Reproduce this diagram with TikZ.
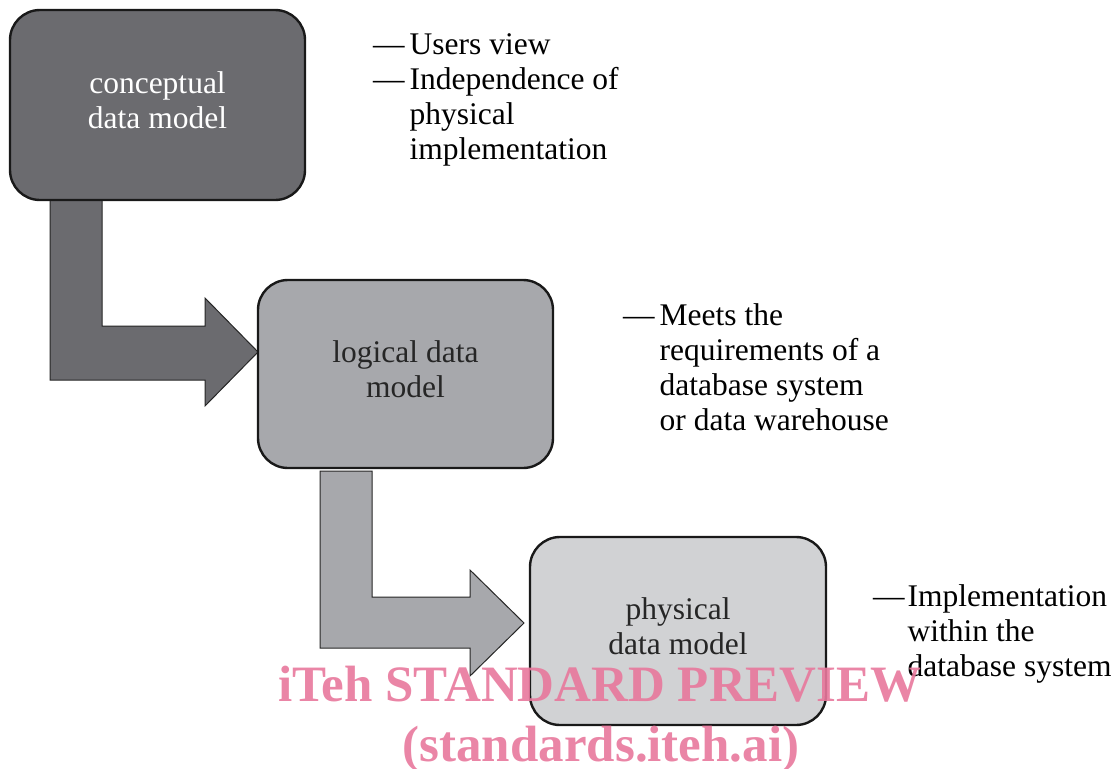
\documentclass[tikz,border=0pt]{standalone}
\usepackage{fontspec}
\setmainfont{Liberation Serif}
\definecolor{gDark}{RGB}{107,107,111}
\definecolor{gMid}{RGB}{167,168,172}
\definecolor{gLight}{RGB}{209,210,212}
\definecolor{wmark}{RGB}{232,120,156}
\tikzset{
  box/.style={draw=black!90, line width=2.4pt, rounded corners=30pt,
    minimum width=295pt, minimum height=188pt, inner sep=0pt, outer sep=0pt},
  boxlabel/.style={align=center, inner sep=0pt, font=\fontsize{31.5}{35}\selectfont},
  blockarrow/.style={draw=black!85, line width=1pt, line join=miter},
  note/.style={anchor=base west, inner sep=0pt, font=\fontsize{31.5}{35}\selectfont},
  wm/.style={anchor=base, inner sep=0pt, text=wmark, opacity=0.9,
    font=\fontsize{51}{55}\selectfont\bfseries}
}
\begin{document}
\begin{tikzpicture}[x=1pt,y=-1pt]
\useasboundingbox (0,0) rectangle (1112,769);
% block arrows
\draw[blockarrow, fill=gDark] (50,200) -- (102,200) -- (102,326) -- (205,326) -- (205,298)
  -- (258,352) -- (205,406) -- (205,380) -- (50,380) -- cycle;
\draw[blockarrow, fill=gMid] (320,471) -- (372,471) -- (372,597) -- (470,597) -- (470,570)
  -- (524,623) -- (470,676) -- (470,648) -- (320,648) -- cycle;
% boxes
\node[box, fill=gDark, minimum height=190pt] (cdm) at (157.5,105) {};
\node[box, fill=gMid] (ldm) at (405.5,374) {};
\node[box, fill=gLight, minimum width=296pt] (pdm) at (678,631) {};
\node[boxlabel, text=white] (cdmt) at ([yshift=5pt]cdm.center) {conceptual\\data model};
\node[boxlabel, text=black!85] (ldmt) at ([yshift=5pt]ldm.center) {logical data\\model};
\node[boxlabel, text=black!85] (pdmt) at ([yshift=5pt]pdm.center) {physical\\data model};
% notes
\node[note] (n1) at (373,54) {\begin{tabular}[t]{@{}l@{\hspace{5pt}}l@{}}
  ---& Users view\\ ---& Independence of\\ & physical\\ & implementation\end{tabular}};
\node[note] (n2) at (623,325) {\begin{tabular}[t]{@{}l@{\hspace{5pt}}l@{}}
  ---& Meets the\\ & requirements of a\\ & database system\\ & or data warehouse\end{tabular}};
\node[note] (n3) at (873,606) {\begin{tabular}[t]{@{}l@{\hspace{3pt}}l@{}}
  ---& Implementation\\ & within the\\ & database system\end{tabular}};
% watermark
\node[wm] (wm1) at (600,701) {iTeh STANDARD PREVIEW};
\node[wm] (wm2) at (601,761) {(standards.iteh.ai)};
\end{tikzpicture}
\end{document}
